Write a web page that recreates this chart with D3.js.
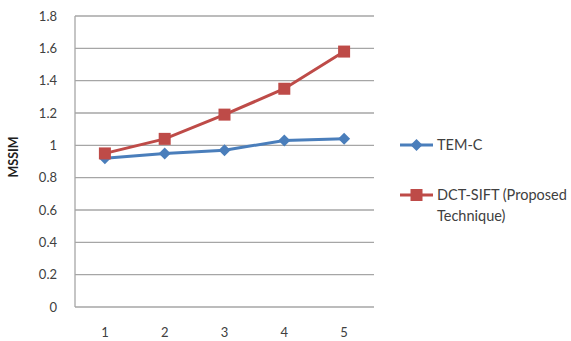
<!DOCTYPE html>
<html>
<head>
<meta charset="utf-8">
<script src="https://cdn.jsdelivr.net/npm/d3@7"></script>
<style>
  body { margin: 0; background: #fff; }
  text { font-family: Lato, "Open Sans", sans-serif; }
</style>
</head>
<body>
<script>
// chart data
var categories = ["1", "2", "3", "4", "5"];
var temC = [0.92, 0.95, 0.97, 1.03, 1.04];
var dctSift = [0.95, 1.04, 1.19, 1.35, 1.58];
var yTicks = [0, 0.2, 0.4, 0.6, 0.8, 1, 1.2, 1.4, 1.6, 1.8];

var series = [
  { name: ["TEM-C"], values: temC, color: "#4a7ebb", marker: "diamond" },
  { name: ["DCT-SIFT (Proposed", "Technique)"], values: dctSift, color: "#be4b48", marker: "square" }
];

var width = 571, height = 341;
var margin = { left: 75, right: 197, top: 16, bottom: 34 };

var svg = d3.select("body").append("svg")
  .attr("width", width)
  .attr("height", height);

var x = d3.scaleBand()
  .domain(categories)
  .range([margin.left, width - margin.right]);

var y = d3.scaleLinear()
  .domain([0, 1.8])
  .range([height - margin.bottom, margin.top]);

// gridlines
svg.append("g")
  .selectAll("line")
  .data(yTicks)
  .enter()
  .append("line")
  .attr("x1", margin.left)
  .attr("x2", width - margin.right)
  .attr("y1", function(d) { return y(d); })
  .attr("y2", function(d) { return y(d); })
  .attr("stroke", "#a6a6a6")
  .attr("stroke-width", 1.3);

// left axis line
svg.append("line")
  .attr("x1", margin.left).attr("x2", margin.left)
  .attr("y1", y(1.8)).attr("y2", y(0))
  .attr("stroke", "#a6a6a6")
  .attr("stroke-width", 1.3);

// y tick labels
svg.append("g")
  .selectAll("text")
  .data(yTicks)
  .enter()
  .append("text")
  .attr("x", 57)
  .attr("y", function(d) { return y(d); })
  .attr("dy", "0.35em")
  .attr("text-anchor", "end")
  .style("font-size", "13px")
  .style("fill", "#404040")
  .text(function(d) { return d; });

// x tick labels
svg.append("g")
  .selectAll("text")
  .data(categories)
  .enter()
  .append("text")
  .attr("x", function(d) { return x(d) + x.bandwidth() / 2; })
  .attr("y", 337)
  .attr("text-anchor", "middle")
  .style("font-size", "13px")
  .style("fill", "#404040")
  .text(function(d) { return d; });

// y axis title
svg.append("text")
  .attr("transform", "translate(18,157) rotate(-90)")
  .attr("text-anchor", "middle")
  .style("font-size", "12.5px")
  .style("font-weight", "bold")
  .style("fill", "#202020")
  .text("MSSIM");

var line = d3.line()
  .x(function(d, i) { return x(categories[i]) + x.bandwidth() / 2; })
  .y(function(d) { return y(d); });

function drawMarker(g, type, color, cx, cy) {
  if (type == "diamond") {
    g.append("path")
      .attr("d", "M" + cx + "," + (cy - 6) + "L" + (cx + 6) + "," + cy + "L" + cx + "," + (cy + 6) + "L" + (cx - 6) + "," + cy + "Z")
      .attr("fill", color);
  } else {
    g.append("rect")
      .attr("x", cx - 6).attr("y", cy - 6)
      .attr("width", 12).attr("height", 12)
      .attr("fill", color);
  }
}

// lines and markers
series.forEach(function(s) {
  svg.append("path")
    .datum(s.values)
    .attr("d", line)
    .attr("fill", "none")
    .attr("stroke", s.color)
    .attr("stroke-width", 3);
  var g = svg.append("g");
  s.values.forEach(function(v, i) {
    drawMarker(g, s.marker, s.color, x(categories[i]) + x.bandwidth() / 2, y(v));
  });
});

// legend
var legendY = [145, 195];
series.forEach(function(s, i) {
  var ly = legendY[i];
  svg.append("line")
    .attr("x1", 400).attr("x2", 433)
    .attr("y1", ly).attr("y2", ly)
    .attr("stroke", s.color)
    .attr("stroke-width", 3);
  drawMarker(svg, s.marker, s.color, 416.5, ly);
  s.name.forEach(function(t, j) {
    svg.append("text")
      .attr("x", 437)
      .attr("y", ly + j * 21)
      .attr("dy", "0.35em")
      .style("font-size", "14.5px")
      .style("fill", "#404040")
      .text(t);
  });
});
</script>
</body>
</html>
